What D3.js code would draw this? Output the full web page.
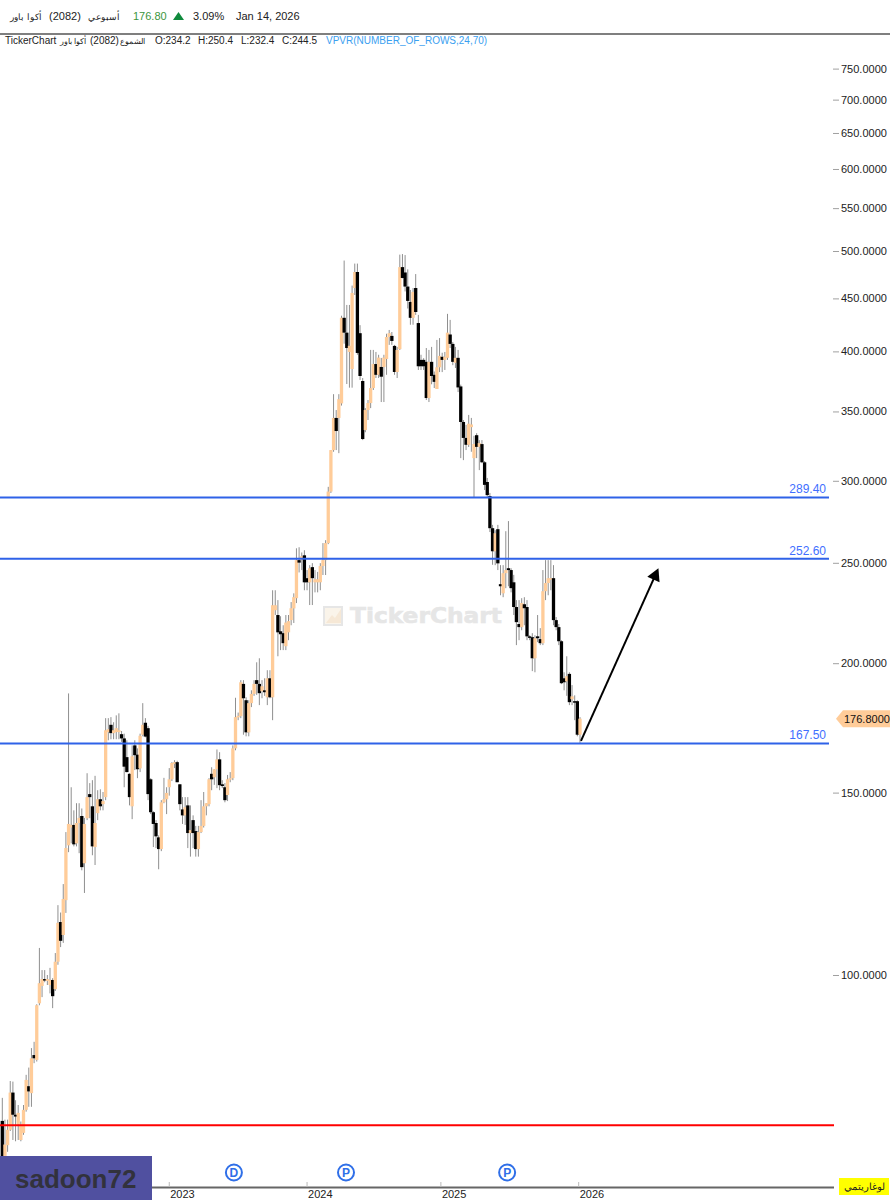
<!DOCTYPE html>
<html><head><meta charset="utf-8">
<script src="https://cdn.jsdelivr.net/npm/d3@7/dist/d3.min.js"></script>
<style>html,body{margin:0;padding:0;background:#fff;overflow:hidden}svg{display:block}text{font-family:"Liberation Sans",Arial,sans-serif}</style>
</head><body><svg id="c" width="890" height="1200"></svg>
<script>
const opens=[72.3,66.8,68.5,70.9,77,73.3,71.7,69.3,70.4,74.1,78.1,76.9,83.7,82.8,93.9,97.6,99.1,98.7,97.8,98.9,96.9,103,112.5,109.3,118.1,133.4,138.8,139.6,134,140.2,142.4,128.2,141.7,149.5,145.5,132.9,143.3,147.8,146.2,148.5,171.6,174.4,171.2,171.6,171.6,170.8,169.2,162.3,156.4,145.5,166.6,163.2,158.3,170.6,175.2,173.1,154.5,143.6,140.2,135.8,132.3,146.8,147.8,151.8,154.5,159.9,160.5,152.8,144.5,142.6,145.8,137.1,141.1,137.7,132.3,137.4,139.3,145.5,146.2,156.4,155.2,158,161.5,152.8,151.8,149.2,154.5,154.9,165.5,177.4,177.8,191,184.2,171.5,183,186.8,192.6,191,187.9,188.3,185.4,193.4,185.4,225,222.6,214.7,213.8,207.7,214.2,220.1,225.9,231.1,251.5,251.5,254.2,241.6,239.4,247.6,239.4,239.4,239.4,248.2,251.5,261.2,292.9,321.2,345,345,356.3,431,417,399.5,384.6,460.5,477.2,416.5,374.5,335.8,351.1,356.6,368.7,388.9,379.7,386.4,386.4,393.3,413,414,404.9,382.1,402,482.4,476.7,462,446.5,431,460.5,426,392.5,392.5,390.8,360.6,390.8,379.7,367.9,386.1,395.2,392.5,394.3,415.3,406.7,390,394.3,370,341.9,330,325,338,315.5,332,323.5,325.5,312.6,299.2,290,270,256.5,269.4,238.4,233.6,244.3,247,246,239.4,226.6,218.2,216.7,228,226.6,212.3,211.9,202.2,212.3,211,209.1,234.7,239,241,241.6,220.1,216.7,210,193.4,192.1,195.3,184.6,183.8,183.8,170.6];
const highs=[76.1,72.5,72.5,79,78.9,75.7,74.9,72.2,74.9,80.1,81.4,85,86.2,93.7,106.2,101.1,101.1,100,101.6,99.3,105,116.8,114.9,122.4,137.4,187,151.8,144.2,146.5,146.5,144.8,141.8,156.6,153.2,154.2,155.7,150.8,151.1,150.2,177,177,177.4,175.4,178.1,178.9,172,171,168.5,156.6,166.6,168.5,165.5,171,183,177,174,154.9,143.9,141.1,136.4,147.5,155,151.8,158.4,160.5,161.2,161,152.8,148.5,148.5,148.5,145.8,142.6,139.3,139.3,147.5,150.2,146.5,154.9,158.7,158,165.1,164.1,154.2,153.2,156,157,166.6,185.2,179.2,192.6,192.6,185.4,184.2,188.3,192.6,200.4,202.2,192.6,193.4,196.9,196.9,235.2,235.2,230.1,222,217.6,222.6,222.6,229.1,233.6,258.2,258.8,255.8,257.1,246,248.7,249.8,246,245,249.8,261.2,262.9,296,321.2,363.7,351.1,363.7,433,489.5,443.5,443.5,463,486.2,486.2,424,377,352.6,359,401.3,401.3,399.5,397,394.2,397,416,419.5,417.6,405.8,404,496,496.6,495.5,480,458.5,460.5,475,433.8,397,394,403,401.3,404,382.5,410.3,412,398.8,399.5,434.8,429,408.4,404,401.3,371.5,343.4,339.7,347.3,345,331.6,333.5,328.4,328.4,313.5,301.9,292,272,268.8,272,248.7,248.7,268.2,274.3,247,243.4,230.1,230.1,231.1,231.6,230.1,212.8,213.8,212.8,222.6,216.2,246,251.5,251.5,251.5,248.7,221.6,218.2,210.5,196,203.1,196,190.5,186.2,184.2,177.4];
const lows=[65.5,66.3,67.5,70.7,69.3,69.1,69.3,69.1,70.1,73.8,74.6,74.6,82.2,82.5,93.5,95.2,98.4,97.8,96,92.9,96.5,102.3,106.4,107.4,114.8,131.4,134,133.1,133.1,131.1,126.2,120,141.1,141.7,130.5,127.7,141.1,144.2,144.2,147.5,168.5,168.9,168.9,168.9,168.9,167.9,151.8,156.9,145.8,141.4,157.7,154.9,157,170,169.6,147.5,143,132.9,132.6,126.5,131.7,146.5,143,149,153.9,158.4,153.5,144.2,139.9,139.6,132.6,130.1,132.6,130.1,130.1,137.1,138.8,142.6,145.5,150.8,152.6,151.5,150.8,151.5,146.8,147.2,153.5,154.2,164.8,176.2,177,170.6,170,170,181.4,186,186.4,182.2,185,186,182.2,185,176.2,222.6,203.1,205.9,205.9,205.9,210.5,217.6,218.7,228.6,244.7,246,235.2,235.2,227.6,227.6,234.1,234.1,235.2,243.3,243.3,260.6,292,320,321.2,319,354.6,406.9,372,369,369,453.4,397,375.4,328.4,334.2,343.4,352.6,367.1,377,377,357.4,357.4,379.7,405.8,405.8,379.7,377,401.3,470.5,457,440,424.4,424.4,433.8,383.8,383.8,383.8,359,357.4,371.8,368.7,367.9,382,382,383.8,392.5,403,387.9,385.5,365.4,315.5,314.1,321.2,323.4,320,289.1,315.5,307.2,312,293.9,289.1,267.7,248.9,248.7,246,232.6,231.6,236.3,237.3,234.1,222.6,208.2,210.5,215.2,217.6,210.5,210.5,196.5,196,209.6,208.2,208.2,230.1,232.6,235.2,217.6,215.2,208.2,190.9,188.3,186,182.2,182.2,176.2,170,167.5];
const closes=[66.3,68.6,70.9,77,73.3,73,73.6,71.7,74.1,79.2,77.2,83.1,83.1,93.5,98.2,99.1,98.9,99.1,98.9,95.4,103,112.3,107.9,118.4,132.6,139.9,139.6,133.7,140.2,141.8,127.1,139.9,148.5,148.5,133.1,140.2,147.8,145.5,147.2,172.3,172.7,171.2,172.3,173.1,172.3,169.2,158.9,157,148.5,162.6,163,158,170.2,174.4,169.9,149.5,143.6,139.9,136.1,132.3,146.8,147.8,149.9,154.5,160.2,160.5,153.5,146.2,142.6,145.2,137.1,138,137.1,132.3,137.4,139.3,145.5,146.5,154.5,154.5,158,161.5,152.5,152.2,147.5,154.5,154.9,165.5,177.4,177.9,191.7,185,171.5,183,186.8,191,191,187.1,190,187.5,193.4,185.4,227.5,227.5,214.2,213.3,209.1,218.9,219.6,226,231.6,251.5,250.1,253.7,239.4,239.4,247,241.6,241,241,248.2,251.5,261.2,292.9,321.2,345,335.1,359.7,431,417,403,405,455.5,477.2,398.6,378.7,329.2,351.1,356.6,368.7,388.9,379.7,394.5,378.1,394.5,413,416.5,409.4,382.1,401.3,482.4,470.9,462,447.5,431,456.5,436.6,387,387,387,360.6,390.8,378.7,373.8,386.1,396,392.5,395.2,417,406.7,390.8,394.3,369.2,341.9,330,325,340.6,340,325.6,323.5,326.2,312.6,297.3,290.6,270,256.5,267,249.7,237.3,244.3,246,246,236.3,226.6,219.1,216.7,228.6,226,212.3,211.9,202.2,211.4,211.4,209.1,234.7,239,241.6,241.6,220.1,216.7,210,191.3,191.7,194.3,183.4,185.8,183.4,170.6,176.8];
const yTicks=[750,700,650,600,550,500,450,400,350,300,250,200,150,100];
const levels=[289.4,252.6,167.5];
const redLevel=71.6;
const lastPrice=176.8;
const years=["2023","2024","2025","2026"];
const yearIdx=[63,115,165.5,217.5];
const events=["D","P","P"];
const eventIdx=[87.4,129.7,190.5];

const svg=d3.select("#c");
const N=closes.length;
const x=d3.scaleLinear().domain([0,218]).range([2.3,580]);
const y=d3.scaleLog().domain([100,500]).range([975,251]);
const plotRight=829;

/* watermark */
const wm=svg.append("g");
wm.append("rect").attr("x",324).attr("y",607).attr("width",18).attr("height",18).attr("fill","#faf4ea").attr("stroke","#e6e6e6").attr("stroke-width",2);
wm.append("path").attr("d","M326 623 L332 615 L335 618 L341 609 L341 623 Z").attr("fill","#f6e8d6");
wm.append("text").attr("x",350).attr("y",623).attr("font-size",21).attr("font-weight","bold").attr("fill","#e6e6e6").attr("stroke","#e6e6e6").attr("stroke-width",0.6).attr("textLength",152).attr("lengthAdjust","spacingAndGlyphs").style("font-family","'DejaVu Sans',sans-serif").text("TickerChart");

/* candles */
const idx=d3.range(N);
const g=svg.append("g");
g.selectAll("line.w").data(idx).join("line").attr("class","w")
 .attr("x1",i=>x(i)).attr("x2",i=>x(i)).attr("y1",i=>y(highs[i])).attr("y2",i=>y(lows[i]))
 .attr("stroke","#8f8f8f").attr("stroke-width",1);
g.selectAll("rect.b").data(idx).join("rect").attr("class","b")
 .attr("x",i=>x(i)-1.65).attr("width",3.3)
 .attr("y",i=>Math.min(y(opens[i]),y(closes[i])))
 .attr("height",i=>Math.max(1.5,Math.abs(y(opens[i])-y(closes[i]))))
 .attr("fill",i=>closes[i]>=opens[i]?"#ffcc99":"#000");

/* horizontal levels */
svg.selectAll("line.lv").data(levels).join("line").attr("class","lv")
 .attr("x1",0).attr("x2",plotRight).attr("y1",d=>y(d)+0.5).attr("y2",d=>y(d)+0.5)
 .attr("stroke","#2f62e8").attr("stroke-width",2);
svg.selectAll("text.lv").data(levels).join("text").attr("class","lv")
 .attr("x",plotRight-3).attr("y",d=>y(d)-3.5).attr("text-anchor","end").attr("font-size",12).attr("fill","#3f6fff")
 .text(d=>d3.format(".2f")(d));
svg.append("line").attr("x1",0).attr("x2",834).attr("y1",y(redLevel)).attr("y2",y(redLevel)).attr("stroke","#ff0000").attr("stroke-width",2);

/* arrow */
const ax0=x(218)+1,ay0=y(167.5)-2,ax1=x(247.6),ay1=y(247);
const ang=Math.atan2(ay1-ay0,ax1-ax0);
svg.append("line").attr("x1",ax0).attr("y1",ay0).attr("x2",ax1-10*Math.cos(ang)).attr("y2",ay1-10*Math.sin(ang)).attr("stroke","#000").attr("stroke-width",2);
const hd=(a,r)=>[ax1+r*Math.cos(a),ay1+r*Math.sin(a)];
svg.append("polygon").attr("points",[[ax1,ay1],hd(ang+Math.PI-0.5,14),hd(ang+Math.PI+0.5,14)].map(p=>p.join(",")).join(" ")).attr("fill","#000");

/* price axis */
const axis=d3.axisRight(y).tickValues(yTicks).tickSize(6).tickPadding(2).tickFormat(d3.format(".4f"));
const ga=svg.append("g").attr("transform","translate(833,0)").call(axis);
ga.select(".domain").remove();
ga.selectAll("line").attr("stroke","#a0a0a0");
ga.selectAll("text").attr("font-size",11).attr("fill","#222").style("font-family","'Liberation Sans',Arial,sans-serif");

/* last price tag */
const ly=y(lastPrice);
svg.append("path").attr("d",`M836 ${ly} L843 ${ly-8.5} L890 ${ly-8.5} L890 ${ly+8.5} L843 ${ly+8.5} Z`).attr("fill","#ffcc99");
svg.append("text").attr("x",844).attr("y",ly+4).attr("font-size",11).attr("fill","#111").text(d3.format(".4f")(lastPrice));

/* time axis */
svg.append("line").attr("x1",152).attr("x2",834).attr("y1",1187.5).attr("y2",1187.5).attr("stroke","#666").attr("stroke-width",2);
svg.selectAll("line.yt").data(yearIdx).join("line").attr("class","yt").attr("x1",d=>x(d)).attr("x2",d=>x(d)).attr("y1",1182).attr("y2",1187).attr("stroke","#bbb");
svg.selectAll("text.yr").data(years).join("text").attr("class","yr").attr("x",(d,i)=>x(yearIdx[i])+1).attr("y",1198).attr("font-size",11).attr("fill","#222").text(d=>d);

/* event markers */
const ev=svg.selectAll("g.ev").data(events).join("g").attr("class","ev").attr("transform",(d,i)=>`translate(${x(eventIdx[i])},1172.5)`);
ev.append("circle").attr("r",8).attr("fill","#fff").attr("stroke","#2f6fe8").attr("stroke-width",2);
ev.append("text").attr("text-anchor","middle").attr("y",4.5).attr("font-size",12).attr("font-weight","bold").attr("fill","#2f6fe8").text(d=>d);

/* label box */
svg.append("rect").attr("x",0).attr("y",1156).attr("width",152).attr("height",44).attr("fill","#5050a0");
svg.append("text").attr("x",15).attr("y",1188).attr("font-size",26).attr("font-weight","bold").attr("fill","#32323c").text("sadoon72");

/* log badge */
svg.append("rect").attr("x",839).attr("y",1178).attr("width",50).attr("height",17).attr("fill","#ffff00");
svg.append("text").attr("x",885).attr("y",1190).attr("text-anchor","end").attr("font-size",10).attr("fill","#222").text("لوغاريتمي");

/* header */
svg.append("rect").attr("x",0).attr("y",0).attr("width",890).attr("height",34).attr("fill","#fff");
svg.append("line").attr("x1",0).attr("x2",890).attr("y1",34).attr("y2",34).attr("stroke","#555").attr("stroke-width",1.5);
const head=[[42,"أكوا باور","end","#222",9],[49,"(2082)","start","#222",11],[120,"أسبوعي","end","#222",9],[133,"176.80","start","#3c963c",11],[193,"3.09%","start","#222",11],[236,"Jan 14, 2026","start","#222",11]];
svg.selectAll("text.hd").data(head).join("text").attr("class","hd").attr("x",d=>d[0]).attr("y",20).attr("text-anchor",d=>d[2]).attr("font-size",d=>d[4]).attr("fill",d=>d[3]).text(d=>d[1]);
svg.append("polygon").attr("points","173,20 184,20 178.5,12").attr("fill","#0f8a3c");
const sub=[[5,"TickerChart","start","#222"],[86,"أكوا باور","end","#222"],[90,"(2082)","start","#222"],[145,"الشموع","end","#222"],[155,"O:234.2","start","#222"],[198,"H:250.4","start","#222"],[241,"L:232.4","start","#222"],[282,"C:244.5","start","#222"],[326,"VPVR(NUMBER_OF_ROWS,24,70)","start","#3aa0f0"]];
svg.selectAll("text.sb").data(sub).join("text").attr("class","sb").attr("x",d=>d[0]).attr("y",44).attr("text-anchor",d=>d[2]).attr("font-size",d=>d[2]==="end"?7.5:10).attr("fill",d=>d[3]).text(d=>d[1]);
</script></body></html>
